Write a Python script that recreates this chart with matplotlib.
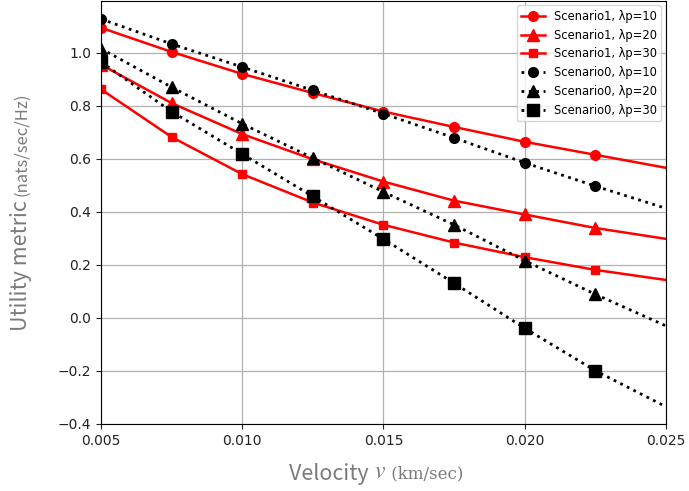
import matplotlib
matplotlib.use("Agg")
import matplotlib.pyplot as plt

plt.rcParams["mathtext.fontset"] = "stix"

# velocity (km/sec), markers drawn on all but the last point
velocity = [0.005, 0.0075, 0.010, 0.0125, 0.015, 0.0175, 0.020, 0.0225, 0.025]

s1_p10 = [1.094, 1.003, 0.920, 0.848, 0.778, 0.720, 0.664, 0.615, 0.566]
s1_p20 = [0.955, 0.810, 0.693, 0.598, 0.514, 0.442, 0.390, 0.339, 0.298]
s1_p30 = [0.862, 0.682, 0.542, 0.435, 0.351, 0.284, 0.229, 0.181, 0.143]
s0_p10 = [1.127, 1.033, 0.946, 0.858, 0.770, 0.679, 0.585, 0.497, 0.413]
s0_p20 = [1.015, 0.870, 0.732, 0.603, 0.475, 0.351, 0.216, 0.089, -0.030]
s0_p30 = [0.965, 0.778, 0.618, 0.458, 0.297, 0.131, -0.039, -0.199, -0.335]

labels_s1 = ["Scenario1, λp=10", "Scenario1, λp=20", "Scenario1, λp=30"]
labels_s0 = ["Scenario0, λp=10", "Scenario0, λp=20", "Scenario0, λp=30"]

fig = plt.figure(figsize=(6.89, 4.91), dpi=100)
ax = fig.add_axes([0.1466, 0.1365, 0.82, 0.862])

mk = slice(0, 8)
markers = ["o", "^", "s"]
red_sizes = [7, 8, 6]
for ys, m, ms, lab in zip([s1_p10, s1_p20, s1_p30], markers, red_sizes, labels_s1):
    ax.plot(velocity, ys, color="red", lw=1.8, marker=m, ms=ms, markevery=mk, label=lab)

blk_sizes = [7, 8, 8.5]
for ys, m, ms, lab in zip([s0_p10, s0_p20, s0_p30], markers, blk_sizes, labels_s0):
    ax.plot(velocity, ys, color="black", lw=2, ls=":", marker=m, ms=ms, markevery=mk, label=lab)

ax.set_xlim(0.005, 0.025)
ax.set_ylim(-0.4, 1.196)
ax.set_xticks([0.005, 0.010, 0.015, 0.020, 0.025])
ax.set_xticklabels(["0.005", "0.010", "0.015", "0.020", "0.025"])
ax.set_yticks([-0.4, -0.2, 0.0, 0.2, 0.4, 0.6, 0.8, 1.0])
ax.grid(True, color="#b0b0b0", lw=0.9)
ax.tick_params(labelsize=10, colors="#222222")
ax.legend(loc="upper right", fontsize=8.3, handlelength=2.0, borderaxespad=0.4)

gray = "#7a7a7a"
# x label: pieces in different fonts
t1 = fig.text(0.42, 0.022, "Velocity ", fontsize=15.5, color=gray,
              family="Noto Sans CJK JP", ha="left", va="baseline")
t2 = ax.annotate("$v$", xy=(1, 0.12), xycoords=t1, fontsize=17, color=gray,
                 ha="left", va="bottom", annotation_clip=False)
t3 = ax.annotate(" (km/sec)", xy=(1, 0), xycoords=t2, fontsize=12, color=gray,
                 family="DejaVu Serif", ha="left", va="bottom", annotation_clip=False)

# y label
u1 = fig.text(0.030, 0.325, "Utility metric ", fontsize=15.5, color=gray,
              family="Noto Sans CJK JP", rotation=90, ha="center", va="bottom")
u2 = ax.annotate("(nats/sec/Hz)", xy=(0.55, 1), xycoords=u1, fontsize=12, color=gray,
                 family="Noto Sans CJK JP", rotation=90, ha="center", va="bottom",
                 annotation_clip=False)

fig.savefig("out.png", dpi=100)
